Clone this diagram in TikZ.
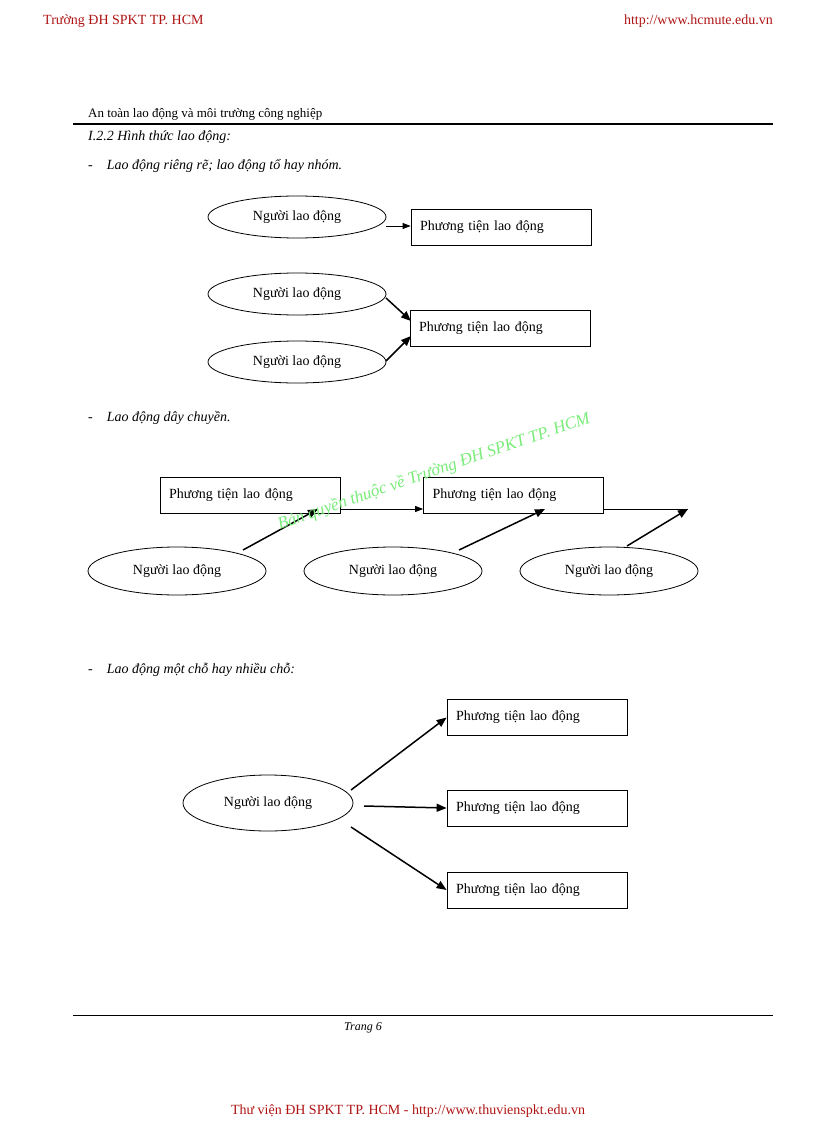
\documentclass[tikz,border=0pt]{standalone}
\usepackage{fontspec}
\setmainfont{Liberation Serif}
\usetikzlibrary{shapes.geometric,arrows.meta}
\definecolor{hdr}{RGB}{175,20,20}
\definecolor{wm}{RGB}{120,235,120}
\begin{document}
\begin{tikzpicture}[x=1pt,y=-1pt,
  el/.style={draw,ellipse,minimum width=178pt,minimum height=46pt,font=\fontsize{14}{16}\selectfont,line width=0.8pt},
  bx/.style={draw,rectangle,minimum width=180pt,minimum height=36pt,text width=162pt,align=left,font=\fontsize{14}{16}\selectfont,line width=0.8pt},
  ar/.style={-{Triangle[length=10pt,width=8pt]},line width=1.5pt},
  ln/.style={-{Triangle[length=8pt,width=6pt]},line width=0.8pt},
  tx/.style={anchor=west,font=\fontsize{14}{16}\selectfont\itshape,inner sep=0}]
\useasboundingbox (0,0) rectangle (816,1123);
\node[anchor=west,text=hdr,font=\fontsize{14}{16}\selectfont,inner sep=0] (h1) at (43,21) {Trường ĐH SPKT TP. HCM};
\node[anchor=east,text=hdr,font=\fontsize{14}{16}\selectfont,inner sep=0] (h2) at (773,21) {http://www.hcmute.edu.vn};
\node[anchor=west,font=\fontsize{13}{15}\selectfont,inner sep=0] (t0) at (88,114) {An toàn lao động và môi trường công nghiệp};
\draw[line width=2pt] (73,124) -- (773,124);
\node[tx] (t1) at (88,137) {I.2.2 Hình thức lao động:};
\node[tx] (t2) at (88,166) {-\hspace{14pt}Lao động riêng rẽ; lao động tổ hay nhóm.};
\node[tx] (t3) at (88,418) {-\hspace{14pt}Lao động dây chuyền.};
\node[tx] (t4) at (88,670) {-\hspace{14pt}Lao động một chỗ hay nhiều chỗ:};
% diagram 1
\node[el,minimum height=42pt] (e1) at (297,217) {Người lao động};
\node[bx] (b1) at (501,227) {Phương tiện lao động};
\draw[ln] (e1.east |- 0,226) -- (b1.west |- 0,226);
\node[el,minimum height=42pt] (e2) at (297,294) {Người lao động};
\node[el,minimum height=42pt] (e3) at (297,362) {Người lao động};
\node[bx] (b2) at (500,328) {Phương tiện lao động};
\draw[ar] (386,298) -- (411,321);
\draw[ar] (386,361) -- (411,336);
% diagram 2
\node[bx] (c1) at (250,495.5) {Phương tiện lao động};
\node[bx] (c2) at (513.5,495.5) {Phương tiện lao động};
\coordinate (end) at (688,509);
\node[el,minimum height=48pt] (f1) at (177,571) {Người lao động};
\node[el,minimum height=48pt] (f2) at (393,571) {Người lao động};
\node[el,minimum height=48pt] (f3) at (609,571) {Người lao động};
\draw[ln] (c1.east |- 0,509) -- (c2.west |- 0,509);
\draw[line width=0.8pt] (c2.east |- 0,509) -- (end);
\draw[ar] (243,550) -- (318,509);
\draw[ar] (459,550) -- (545,509);
\draw[ar] (627,546) -- (end);
% diagram 3
\node[el,minimum width=170pt,minimum height=56pt] (g) at (268,803) {Người lao động};
\node[bx] (d1) at (537,717.5) {Phương tiện lao động};
\node[bx] (d2) at (537,808) {Phương tiện lao động};
\node[bx] (d3) at (537,890) {Phương tiện lao động};
\draw[ar] (351,790) -- (d1.west);
\draw[ar] (364,806) -- (d2.west);
\draw[ar] (351,827) -- (d3.west);
% watermark
\node[text=wm,font=\fontsize{17}{20}\selectfont\itshape,rotate=19] (wm) at (434,472) {Bản quyền thuộc về Trường ĐH SPKT TP. HCM};
% footer
\draw[line width=1pt] (73,1015) -- (773,1015);
\node[font=\fontsize{12}{14}\selectfont\itshape,inner sep=0] (pg) at (363,1028) {Trang 6};
\node[text=hdr,font=\fontsize{14}{16}\selectfont,inner sep=0] (ft) at (408,1111) {Thư viện ĐH SPKT TP. HCM - http://www.thuvienspkt.edu.vn};
\end{tikzpicture}
\end{document}
